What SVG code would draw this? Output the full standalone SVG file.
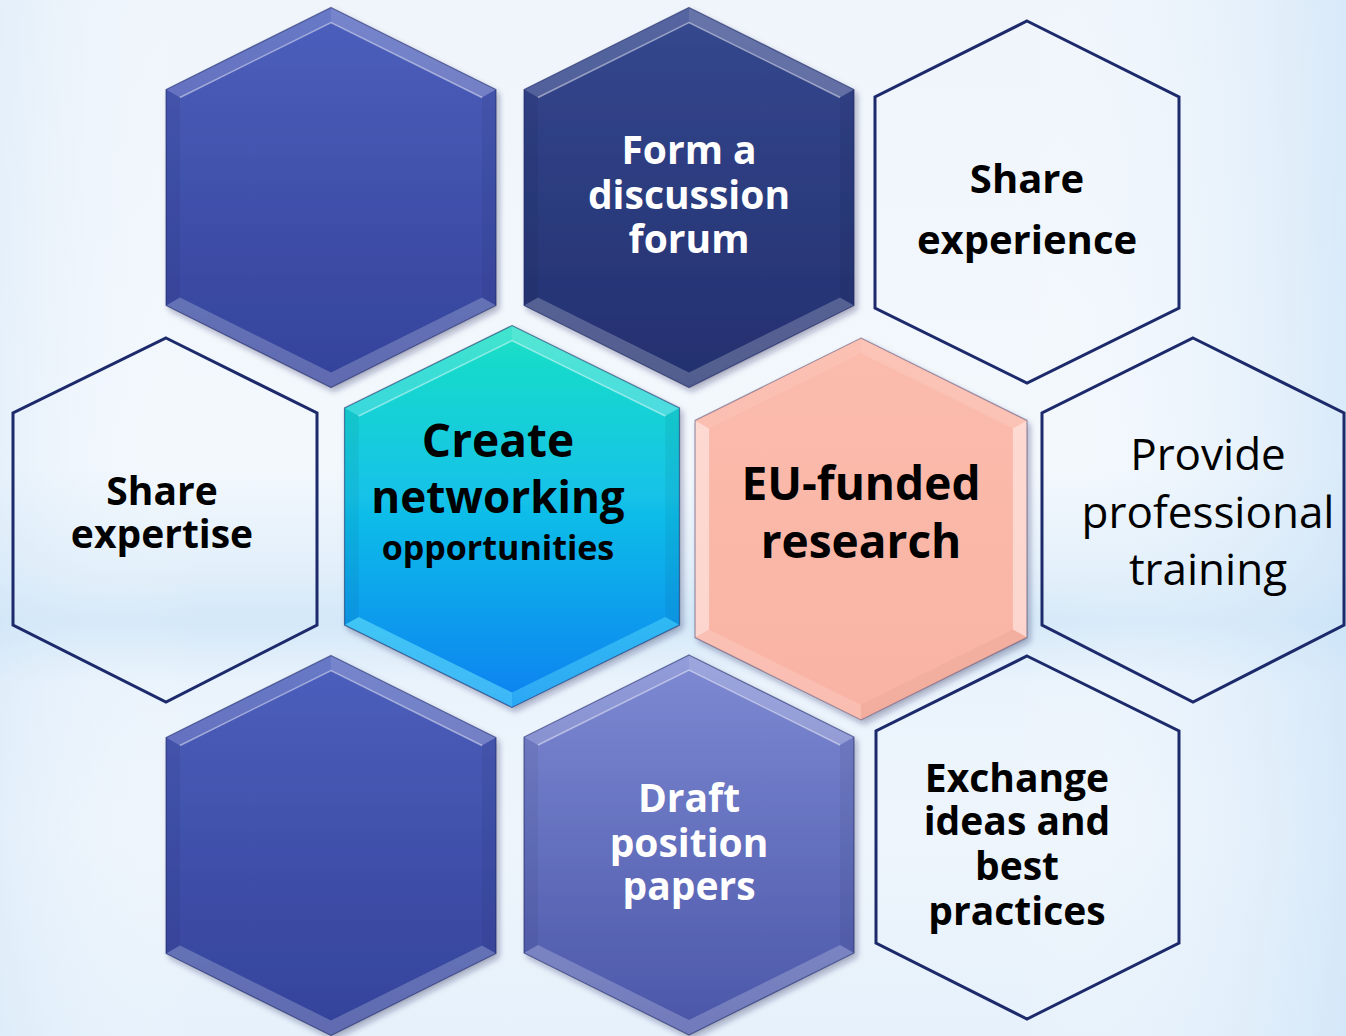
<svg xmlns="http://www.w3.org/2000/svg" xmlns:xlink="http://www.w3.org/1999/xlink" width="1346" height="1036" viewBox="0 0 1346 1036">
<style>
.t{font-family:"Open Sans","DejaVu Sans",sans-serif;font-weight:bold;text-anchor:middle}
.r{font-family:"Open Sans","DejaVu Sans",sans-serif;font-weight:normal;text-anchor:middle}
.w{fill:#ffffff}
.k{fill:#000000}
.outline{fill:none;stroke:#1c2a6b;stroke-width:3;stroke-linejoin:miter}
.ft{fill:#ffffff;fill-opacity:0.16}
.ftr{fill:#ffffff;fill-opacity:0.24}
.fs{fill:#000000;fill-opacity:0.05}
.fb{fill:#ffffff;fill-opacity:0.22}
.hl{fill:none;stroke:#ffffff;stroke-opacity:0.45;stroke-width:1.5}
.edge{fill:none;stroke:#1a2260;stroke-opacity:0.55;stroke-width:1.2}
</style>
<defs>
<linearGradient id="bgV" x1="0" y1="0" x2="0" y2="1">
<stop offset="0" stop-color="#eff5fb"/>
<stop offset="0.45" stop-color="#f3f8fd"/>
<stop offset="0.55" stop-color="#e2effa"/>
<stop offset="0.6" stop-color="#d3e8f8"/>
<stop offset="0.66" stop-color="#eaf3fc"/>
<stop offset="0.8" stop-color="#eef5fc"/>
<stop offset="1" stop-color="#e6f1fb"/>
</linearGradient>
<linearGradient id="bgH" x1="0" y1="0" x2="1" y2="0">
<stop offset="0" stop-color="#cfe4f7" stop-opacity="0.35"/>
<stop offset="0.15" stop-color="#ffffff" stop-opacity="0"/>
<stop offset="0.75" stop-color="#ffffff" stop-opacity="0"/>
<stop offset="1" stop-color="#c8e1f7" stop-opacity="0.6"/>
</linearGradient>
<linearGradient id="gDark" x1="0" y1="0" x2="0" y2="1">
<stop offset="0" stop-color="#4c5fbc"/>
<stop offset="1" stop-color="#34429a"/>
</linearGradient>
<linearGradient id="gForum" x1="0" y1="0" x2="0" y2="1">
<stop offset="0" stop-color="#35488f"/>
<stop offset="1" stop-color="#232f6e"/>
</linearGradient>
<linearGradient id="gDraft" x1="0" y1="0" x2="0" y2="1">
<stop offset="0" stop-color="#7e8ad3"/>
<stop offset="1" stop-color="#4a56a8"/>
</linearGradient>
<linearGradient id="gTeal" x1="0" y1="0" x2="0" y2="1">
<stop offset="0" stop-color="#1be0c4"/>
<stop offset="0.45" stop-color="#12c2e8"/>
<stop offset="1" stop-color="#0680f0"/>
</linearGradient>
<linearGradient id="gPink" x1="0" y1="0" x2="0" y2="1">
<stop offset="0" stop-color="#fbbcad"/>
<stop offset="1" stop-color="#f9b3a4"/>
</linearGradient>
<filter id="sh" x="-10%" y="-10%" width="125%" height="125%">
<feDropShadow dx="3" dy="4" stdDeviation="3" flood-color="#1a2250" flood-opacity="0.35"/>
</filter>
<path id="hx" d="M0,-190 L165,-108 L165,108 L0,190 L-165,108 L-165,-108Z"/>
<path id="fTL" d="M-165,-108 L0,-190 L0,-175 L-151,-100Z"/>
<path id="fTR" d="M0,-190 L165,-108 L151,-100 L0,-175Z"/>
<path id="fR" d="M165,-108 L165,108 L151,100 L151,-100Z"/>
<path id="fBR" d="M165,108 L0,190 L0,175 L151,100Z"/>
<path id="fBL" d="M0,190 L-165,108 L-151,100 L0,175Z"/>
<path id="fL" d="M-165,108 L-165,-108 L-151,-100 L-151,100Z"/>
<path id="hlTop" d="M-151,-100 L0,-175 L151,-100"/>
</defs>

<rect width="1346" height="1036" fill="url(#bgV)"/>
<rect width="1346" height="1036" fill="url(#bgH)"/>

<g id="n-share-experience">
<polygon class="outline" points="1027,21 1179,97 1179,308 1027,383 875,308 875,97"/>
<text class="t k" font-size="40" x="1027" y="193">Share</text>
<text class="t k" font-size="40" x="1027" y="254">experience</text>
</g>

<g id="n-share-expertise">
<polygon class="outline" points="166,338 317,413 317,625 166,702 13,625 13,413"/>
<text class="t k" font-size="39" x="162" y="505">Share</text>
<text class="t k" font-size="39" x="162" y="548">expertise</text>
</g>

<g id="n-provide-training">
<polygon class="outline" points="1193,338 1344,413 1344,625 1193,702 1042,625 1042,413"/>
<text class="r k" font-size="44" x="1208" y="470">Provide</text>
<text class="r k" font-size="44" x="1208" y="528">professional</text>
<text class="r k" font-size="44" x="1208" y="585">training</text>
</g>

<g id="n-exchange-ideas">
<polygon class="outline" points="1027,656 1179,731 1179,943 1027,1019 876,943 876,731"/>
<text class="t k" font-size="39" x="1017" y="792">Exchange</text>
<text class="t k" font-size="39" x="1017" y="835">ideas and</text>
<text class="t k" font-size="39" x="1017" y="880">best</text>
<text class="t k" font-size="39" x="1017" y="925">practices</text>
</g>

<g id="n-blank-top" transform="translate(331,197.5)">
<use xlink:href="#hx" fill="url(#gDark)" filter="url(#sh)"/>
<use xlink:href="#fTL" class="ft"/><use xlink:href="#fTR" class="ftr"/>
<use xlink:href="#fR" class="fs"/><use xlink:href="#fL" class="fs"/>
<use xlink:href="#fBR" class="fb"/><use xlink:href="#fBL" class="fb"/>
<use xlink:href="#hlTop" class="hl"/>
<use xlink:href="#hx" class="edge"/>
</g>

<g id="n-discussion-forum">
<g transform="translate(689,197.5)">
<use xlink:href="#hx" fill="url(#gForum)" filter="url(#sh)"/>
<use xlink:href="#fTL" class="ft"/><use xlink:href="#fTR" class="ftr"/>
<use xlink:href="#fR" class="fs"/><use xlink:href="#fL" class="fs"/>
<use xlink:href="#fBR" class="fb"/><use xlink:href="#fBL" class="fb"/>
<use xlink:href="#hlTop" class="hl"/>
<use xlink:href="#hx" class="edge"/>
</g>
<text class="t w" font-size="39" x="689" y="164">Form a</text>
<text class="t w" font-size="39" x="689" y="209">discussion</text>
<text class="t w" font-size="39" x="689" y="253">forum</text>
</g>

<g id="n-blank-bottom" transform="translate(331,845.5)">
<use xlink:href="#hx" fill="url(#gDark)" filter="url(#sh)"/>
<use xlink:href="#fTL" class="ft"/><use xlink:href="#fTR" class="ftr"/>
<use xlink:href="#fR" class="fs"/><use xlink:href="#fL" class="fs"/>
<use xlink:href="#fBR" class="fb"/><use xlink:href="#fBL" class="fb"/>
<use xlink:href="#hlTop" class="hl"/>
<use xlink:href="#hx" class="edge"/>
</g>

<g id="n-draft-papers">
<g transform="translate(689,845)">
<use xlink:href="#hx" fill="url(#gDraft)" filter="url(#sh)"/>
<use xlink:href="#fTL" class="ft"/><use xlink:href="#fTR" class="ftr"/>
<use xlink:href="#fR" class="fs"/><use xlink:href="#fL" class="fs"/>
<use xlink:href="#fBR" class="fb"/><use xlink:href="#fBL" class="fb"/>
<use xlink:href="#hlTop" class="hl"/>
<use xlink:href="#hx" class="edge"/>
</g>
<text class="t w" font-size="39" x="689" y="812">Draft</text>
<text class="t w" font-size="39" x="689" y="857">position</text>
<text class="t w" font-size="39" x="689" y="900">papers</text>
</g>

<g id="n-networking">
<g transform="translate(512,516.5) scale(1.015,1.005)">
<use xlink:href="#hx" fill="url(#gTeal)" filter="url(#sh)"/>
<use xlink:href="#fTL" class="ft"/><use xlink:href="#fTR" class="ftr"/>
<use xlink:href="#fR" class="fs"/><use xlink:href="#fL" class="fs"/>
<use xlink:href="#fBR" fill="#6ff2ff" fill-opacity="0.35"/><use xlink:href="#fBL" fill="#7ff8ff" fill-opacity="0.45"/>
<use xlink:href="#hlTop" class="hl"/>
<use xlink:href="#hx" class="edge"/>
</g>
<text class="t k" font-size="46" x="498" y="457">Create</text>
<text class="t k" font-size="44" x="498" y="513">networking</text>
<text class="t k" font-size="34" x="498" y="560">opportunities</text>
</g>

<g id="n-eu-research">
<g transform="translate(861,529) scale(1.006,1.005)">
<use xlink:href="#hx" fill="url(#gPink)" filter="url(#sh)"/>
<use xlink:href="#fTL" fill="#ffffff" fill-opacity="0.08"/><use xlink:href="#fTR" fill="#ffffff" fill-opacity="0.12"/>
<use xlink:href="#fR" fill="#ffffff" fill-opacity="0.45"/><use xlink:href="#fL" fill="#ffffff" fill-opacity="0.45"/>
<use xlink:href="#fBR" fill="#e09a8c" fill-opacity="0.25"/><use xlink:href="#fBL" fill="#ffffff" fill-opacity="0.15"/>
<use xlink:href="#hx" fill="none" stroke="#4a3f6e" stroke-opacity="0.5" stroke-width="1.2"/>
</g>
<text class="t k" font-size="46" x="861" y="500">EU-funded</text>
<text class="t k" font-size="46" x="861" y="558">research</text>
</g>

<g id="connectors"></g>
</svg>
